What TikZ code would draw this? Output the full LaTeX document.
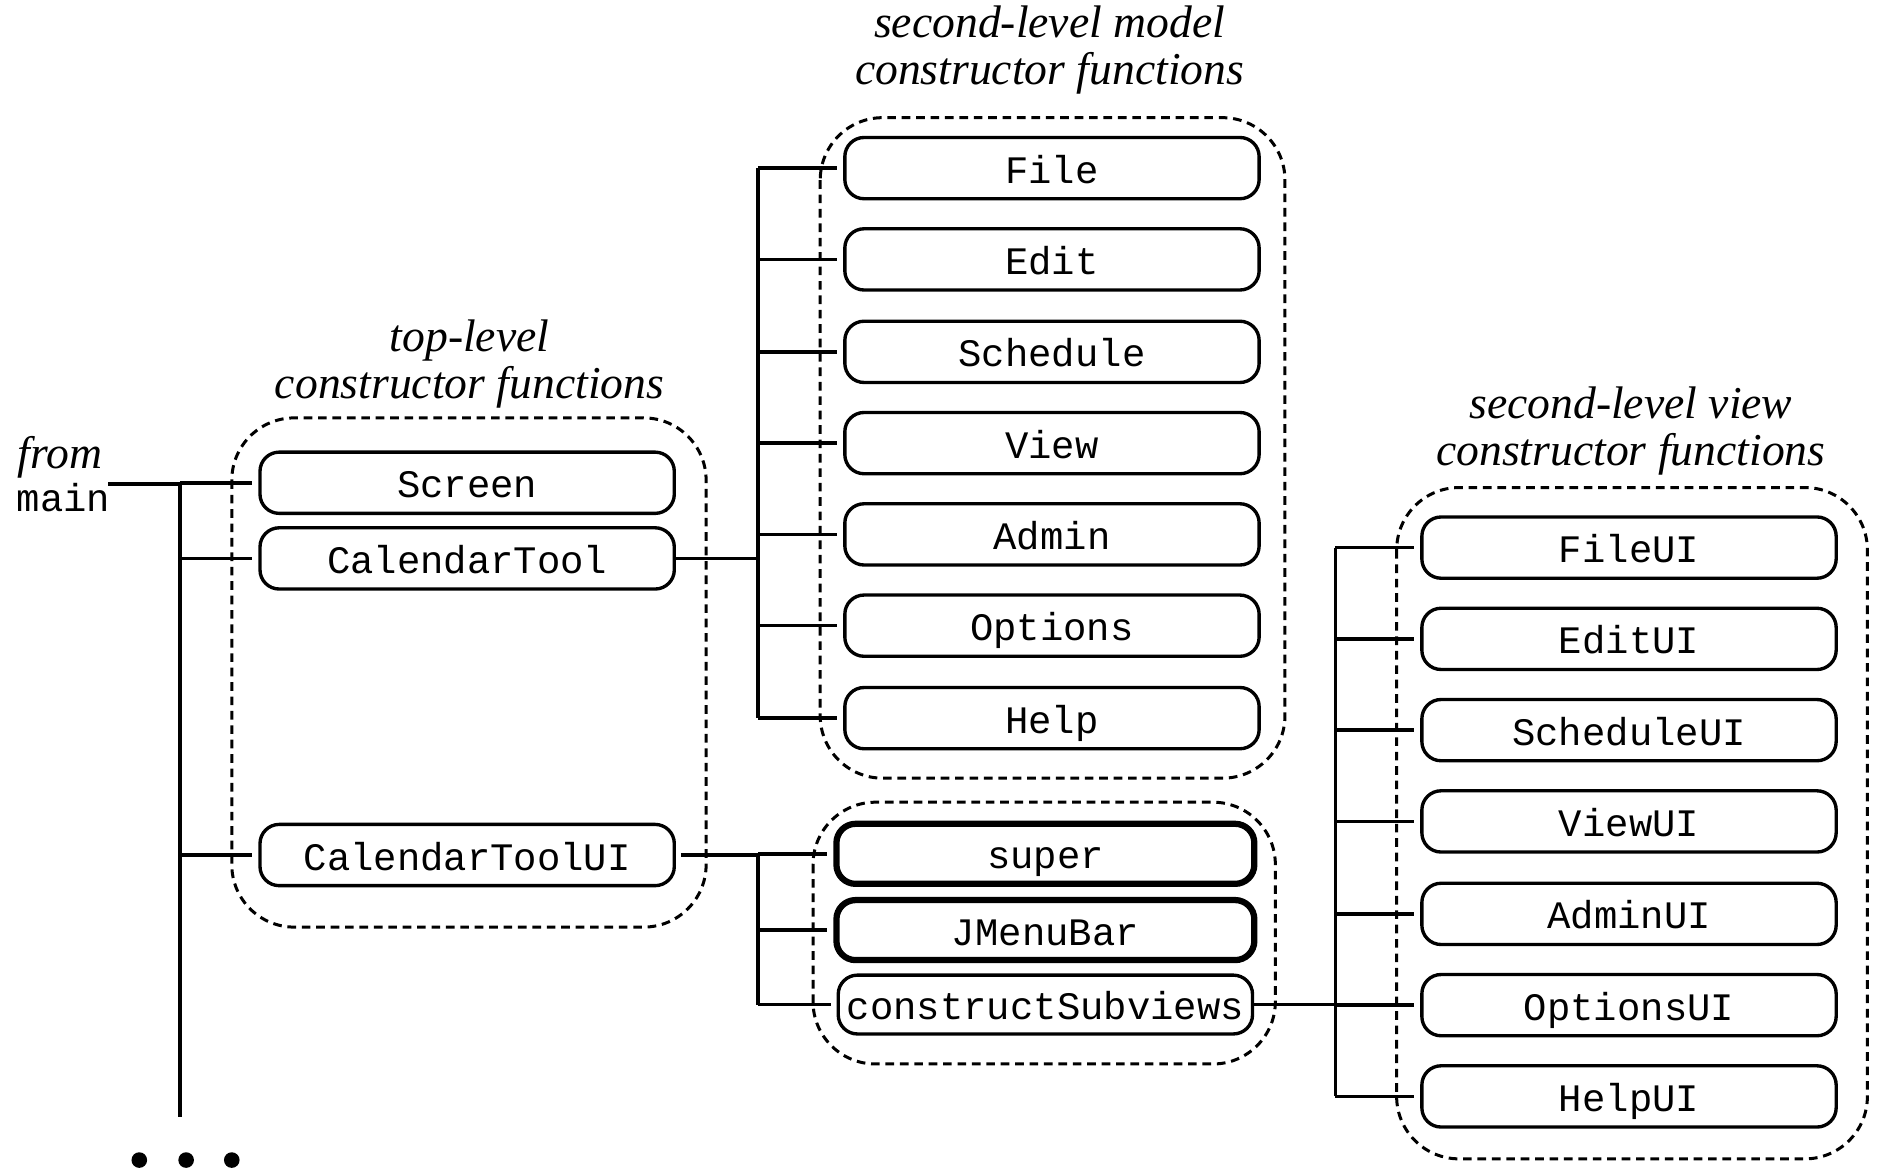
\documentclass[tikz,border=0pt]{standalone}
\usepackage{fontspec}
\setmainfont{Liberation Serif}
\newfontfamily\cmono{Liberation Mono}
\usetikzlibrary{calc}
\tikzset{
  fbox/.style={draw, rounded corners=8pt, line width=1.4pt, minimum width=172.5pt,
    minimum height=25.5pt, inner sep=0pt, text height=14pt, text depth=1.5pt,
    font=\cmono\fontsize{16.2pt}{18pt}\selectfont},
  thickbox/.style={fbox, line width=2.6pt},
  grp/.style={draw, line width=1.25pt, dash pattern=on 3.6pt off 2.4pt, rounded corners=26pt},
  lbl/.style={align=center, inner sep=0pt, font=\itshape\fontsize{19pt}{19.5pt}\selectfont},
  conn/.style={line width=1.5pt},
  branch/.style={conn, shorten >=2.5pt}
}
\begin{document}
\begin{tikzpicture}[x=0.5pt,y=-0.5pt]
\useasboundingbox (0,0) rectangle (1568,977);

% group outlines
\draw[grp] (193,348) rectangle (588,772);
\draw[grp] (683,98) rectangle (1070,648);
\draw[grp] (677,668) rectangle (1062,886);
\draw[grp] (1163,406) rectangle (1555,965);

% labels
\node[lbl] (lbltop) at (391,303) {top-level\\constructor functions};
\node[lbl] (lblmodel) at (874,42) {second-level model\\constructor functions};
\node[lbl] (lblview) at (1358,359) {second-level view\\constructor functions};
\node[lbl] (from) at (50,381) {from};
\node[inner sep=0pt, font=\cmono\fontsize{16.2pt}{18pt}\selectfont] (main) at (53,414) {main};

% top-level
\node[fbox] (screen) at (389,402) {Screen};
\node[fbox] (ctool) at (389,465) {CalendarTool};
\node[fbox] (ctoolui) at (389,712) {CalendarToolUI};

% model
\node[fbox] (file) at (876,140) {File};
\node[fbox] (edit) at (876,216) {Edit};
\node[fbox] (sched) at (876,293) {Schedule};
\node[fbox] (view) at (876,369) {View};
\node[fbox] (admin) at (876,445) {Admin};
\node[fbox] (opts) at (876,521) {Options};
\node[fbox] (help) at (876,598) {Help};

% controller
\node[thickbox, minimum width=174pt, minimum height=25pt] (super) at (870.5,711) {super};
\node[thickbox, minimum width=174pt, minimum height=25pt] (jmb) at (870.5,774.5) {JMenuBar};
\node[fbox, minimum width=172.5pt, minimum height=24.5pt] (csv) at (870.5,836.5) {constructSubviews};

% view
\node[fbox] (fileui) at (1356.5,456) {FileUI};
\node[fbox] (editui) at (1356.5,532) {EditUI};
\node[fbox] (schedui) at (1356.5,608) {ScheduleUI};
\node[fbox] (viewui) at (1356.5,684) {ViewUI};
\node[fbox] (adminui) at (1356.5,761) {AdminUI};
\node[fbox] (optsui) at (1356.5,837) {OptionsUI};
\node[fbox] (helpui) at (1356.5,913) {HelpUI};

% bus coordinates
\coordinate (mainend) at (90,403);
\coordinate (bus0top) at (150,403);
\coordinate (bus0bot) at (150,930);
\coordinate (bus1) at (631,0);
\coordinate (bus3) at (1112,0);

% main bus
\draw[conn] (mainend) -- (bus0top) -- (bus0bot);
\foreach \n in {screen,ctool,ctoolui}
  \draw[branch] (bus0top |- \n.west) -- (\n.west);

% model bus
\draw[conn] (bus1 |- file.west) -- (bus1 |- help.west);
\foreach \n in {file,edit,sched,view,admin,opts,help}
  \draw[branch] (bus1 |- \n.west) -- (\n.west);
\draw[conn] (ctool.east) -- (bus1 |- ctool.east);

% controller bus
\draw[conn] (bus1 |- super.west) -- (bus1 |- csv.west);
\foreach \n in {super,jmb,csv}
  \draw[branch] (bus1 |- \n.west) -- (\n.west);
\draw[conn] ([xshift=2pt]ctoolui.east) -- (bus1 |- ctoolui.east);

% view bus
\draw[conn] (bus3 |- fileui.west) -- (bus3 |- helpui.west);
\foreach \n in {fileui,editui,schedui,viewui,adminui,optsui,helpui}
  \draw[branch] (bus3 |- \n.west) -- (\n.west);
\draw[conn] (csv.east) -- (bus3 |- csv.east);

% ellipsis dots
\fill (116,966) circle (6.5);
\fill (155,966) circle (6.5);
\fill (193,966) circle (6.5);
\end{tikzpicture}
\end{document}
